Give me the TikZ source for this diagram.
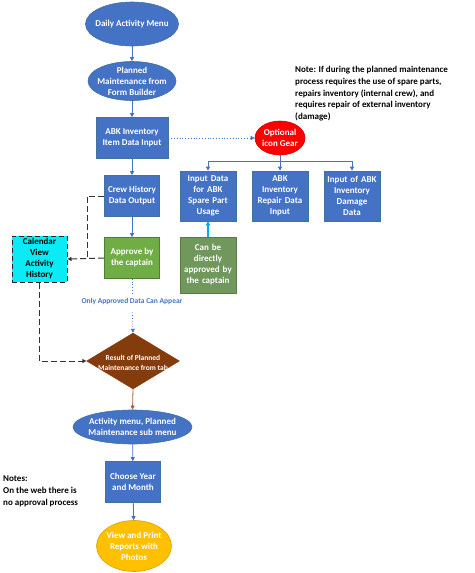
\documentclass[tikz,border=0pt]{standalone}
\usepackage{fontspec}
\setmainfont{Carlito}
\usetikzlibrary{shapes.geometric,arrows.meta}
\definecolor{obl}{HTML}{4472C4}
\definecolor{obd}{HTML}{41719C}
\definecolor{ogr}{HTML}{70AD47}
\definecolor{ogrd}{HTML}{507E32}
\definecolor{dgr}{HTML}{71985C}
\definecolor{cyn}{HTML}{0BEBF5}
\definecolor{brn}{HTML}{843C0C}
\definecolor{org}{HTML}{FFC000}
\begin{document}
\begin{tikzpicture}[x=1pt,y=-1pt,
  every node/.style={font=\bfseries\fontsize{9}{11}\selectfont},
  txt/.style={text=white, align=center, inner sep=0pt},
  oval/.style={ellipse, inner sep=0pt, draw=obd, line width=0.6pt, fill=obl},
  bbox/.style={rectangle, fill=obl, draw=obd, line width=0.6pt, text=white, align=center, inner sep=1pt},
  gbox/.style={rectangle, fill=ogr, draw=ogrd, line width=0.6pt, text=white, align=center, inner sep=1pt},
  arr/.style={draw=obl, line width=0.8pt, -{Triangle[length=4pt,width=4pt]}},
  dsh/.style={draw=black!80, line width=1pt, dash pattern=on 6pt off 3pt},
  tip/.style={-{Triangle[length=4pt,width=4pt]}}
]
\useasboundingbox (0,0) rectangle (474,573);

% top ellipses
\node[oval, minimum width=93pt, minimum height=44pt] (dam) at (132,24) {};
\node[txt] (damt) at (dam) {Daily Activity Menu};
\node[oval, minimum width=88pt, minimum height=39pt] (pm) at (132,81) {};
\node[txt] (pmt) at (pm) {Planned\\Maintenance from\\Form Builder};

\node[bbox, minimum width=72pt, minimum height=41pt] (abk) at (132,138) {ABK Inventory\\Item Data Input};

% optional gear
\node[ellipse, fill=red, draw=red!80!black, line width=0.6pt, minimum width=50pt, minimum height=34pt, inner sep=0pt] (opt) at (280,138) {};
\node[txt] (optt) at (opt) {Optional\\icon Gear};

% note
\node[align=left, anchor=north west, inner sep=0pt, font=\bfseries\fontsize{9}{11.8}\selectfont] (note) at (295,66)
 {Note: If during the planned maintenance\\process requires the use of spare parts,\\repairs inventory (internal crew), and\\requires repair of external inventory\\(damage)};

% three boxes
\node[bbox, minimum width=56pt, minimum height=50pt, text width=54pt] (b1) at (208,196) {Input Data\\for ABK\\Spare Part\\Usage};
\node[bbox, minimum width=56pt, minimum height=50pt, text width=54pt] (b2) at (280,196) {ABK\\Inventory\\Repair Data\\Input};
\node[bbox, minimum width=56pt, minimum height=50pt, text width=54pt] (b3) at (352,196) {Input of ABK\\Inventory\\Damage\\Data};
\coordinate (j) at (280,161);

\node[rectangle, fill=dgr, draw=dgr!80!black, line width=0.6pt, text=white, align=center, minimum width=56pt, minimum height=56pt, text width=54pt, inner sep=1pt] (can) at (208,265) {Can be\\directly\\approved by\\the captain};

% left column
\node[bbox, minimum width=55pt, minimum height=41pt] (crew) at (132,196) {Crew History\\Data Output};
\node[gbox, minimum width=55pt, minimum height=41pt] (appr) at (132,258) {Approve by\\the captain};
\node[rectangle, fill=cyn, draw=black!85, line width=1pt, dash pattern=on 5pt off 3pt, align=center, minimum width=55pt, minimum height=46pt, inner sep=1pt] (cal) at (39.5,259) {Calendar\\View\\Activity\\History};
\coordinate (k) at (87,258);

\node[text=obl, font=\bfseries\fontsize{7.5}{9}\selectfont, inner sep=0pt] (only) at (132,301) {Only Approved Data Can Appear};

\node[diamond, aspect=1.66, fill=brn, draw=brn, inner sep=0pt, minimum width=93pt, minimum height=56pt] (dia) at (133,361) {};
\node[txt, font=\bfseries\fontsize{7.5}{10.5}\selectfont] (diat) at (133,363) {Result of Planned\\Maintenance from tab};

\node[oval, minimum width=119pt, minimum height=34pt] (act) at (132.5,427) {};
\node[txt] (actt) at (act) {Activity menu, Planned\\Maintenance sub menu};

\node[bbox, minimum width=55pt, minimum height=41pt] (cy) at (133,482) {Choose Year\\and Month};

\node[ellipse, fill=org, draw=org!85!black, line width=0.6pt, inner sep=0pt, minimum width=75pt, minimum height=51pt] (vp) at (134,546) {};
\node[txt] (vpt) at (vp) {View and Print\\Reports with\\Photos};

\node[align=left, anchor=north west, inner sep=0pt, font=\bfseries\fontsize{9}{12}\selectfont] (notes) at (3,475)
 {Notes:\\On the web there is\\no approval process};

% connectors
\draw[arr] (dam) -- (pm);
\draw[arr] (pm) -- (abk);
\draw[arr] (abk) -- (crew);
\draw[arr] (crew) -- (appr);
\draw[draw=obl, line width=0.8pt, dotted, tip] (abk.east) -- (opt.west);
\draw[draw=obl, line width=0.8pt] (opt.south) -- (j);
\draw[arr] (j) -| (b1.north);
\draw[arr] (j) -| (b3.north);
\draw[arr] (j) -- (b2.north);
\draw[draw=cyan, line width=1.2pt, -{Triangle[length=4pt,width=4.5pt]}] (can.north) -- (b1.south);
\draw[dsh] (crew.west) -| (k);
\draw[dsh, tip] (appr.west) -- (cal.east);
\draw[dsh, tip] (cal.south) |- (dia.west);
\draw[draw=obl, line width=0.8pt, dotted, shorten >=4pt] (appr.south) -- (only.north);
\draw[draw=obl, line width=0.8pt, dotted, shorten <=8pt, tip] (only.south) -- (dia.north);
\draw[draw=brn!80!white, line width=0.8pt, tip] (dia.south) -- (act.north);
\draw[arr] (act) -- (cy);
\draw[arr] (cy) -- (vp);
\end{tikzpicture}
\end{document}
